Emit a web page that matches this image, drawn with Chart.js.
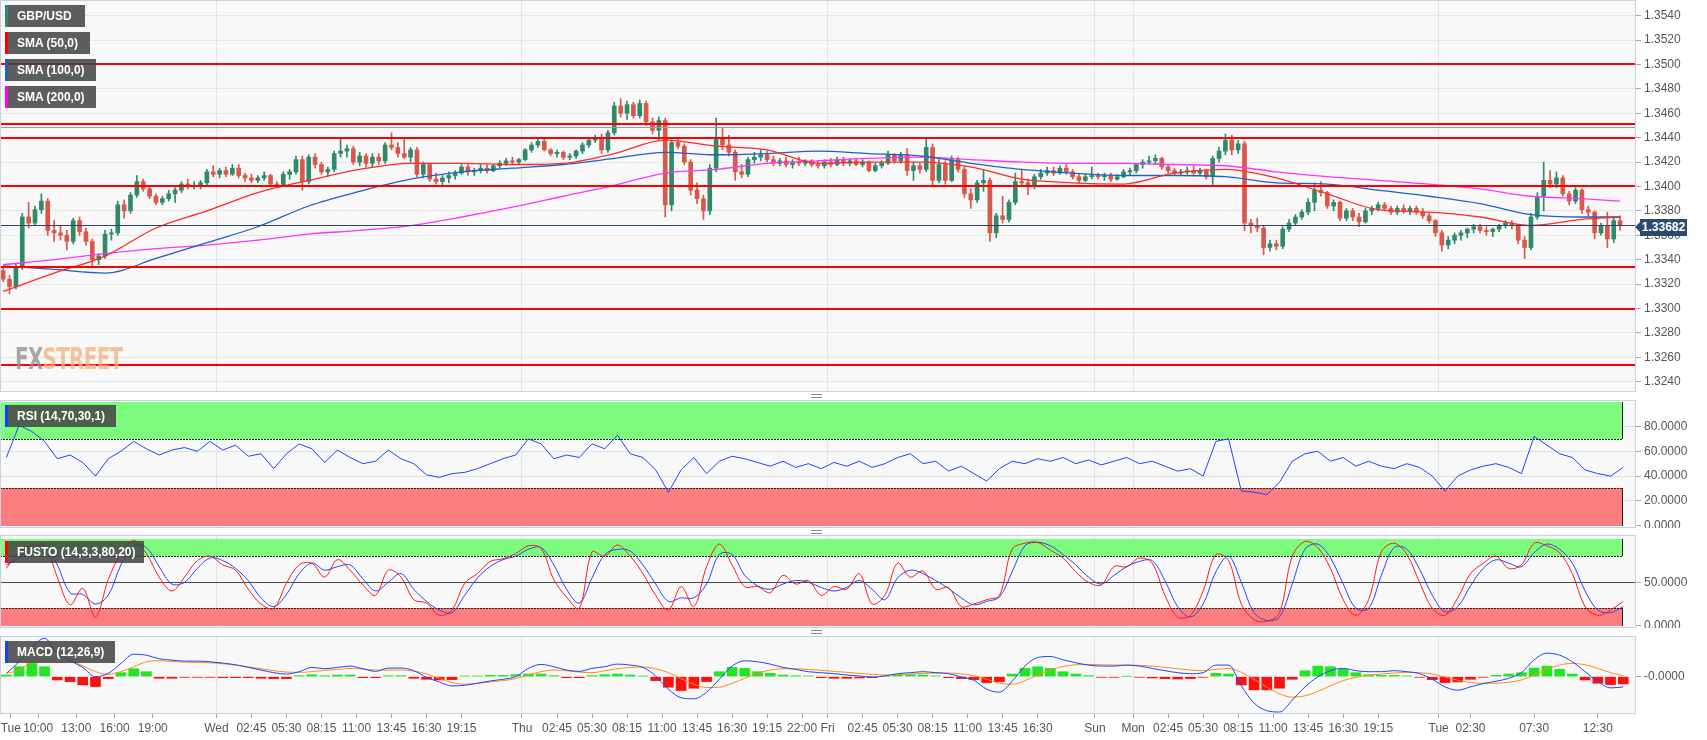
<!DOCTYPE html>
<html>
<head>
<meta charset="utf-8">
<title>GBP/USD</title>
<script src="https://cdn.jsdelivr.net/npm/chart.js@4.4.0/dist/chart.umd.min.js"></script>
<style>
  body { margin: 0; background: #fff; font-family: "Liberation Sans", Arial, sans-serif; }
  #wrap { position: relative; width: 1707px; height: 740px; overflow: hidden; }
  #wrap canvas { position: absolute; left: 0; }
  .tag { position: absolute; left: 5px; height: 22px; line-height: 22px; background: rgba(68,68,68,.86);
         color: #fff; font-weight: bold; font-size: 12px; padding-left: 12px; box-sizing: border-box; white-space: nowrap; }
  .tag i { position: absolute; left: 0; top: 0; width: 3px; height: 100%; }
  .grip { position: absolute; left: 811px; width: 11px; height: 2px; border-top: 1px solid #8a8a8a; border-bottom: 1px solid #8a8a8a; }
  #last { position: absolute; left: 1640px; top: 219px; width: 47px; height: 17px; line-height: 17px; background: #2b4a6d;
          color: #fff; font-weight: bold; font-size: 12px; text-align: center; }
  #last:before { content: ""; position: absolute; left: -5px; top: 3px; border-style: solid; border-width: 5px 5px 5px 0;
                 border-color: transparent #2b4a6d transparent transparent; }
  #mark { position: absolute; left: 15px; top: 340px; font: bold 31px "DejaVu Sans", sans-serif; letter-spacing: -1px;
          transform: scaleX(.64); transform-origin: left top; opacity: .75; }
</style>
</head>
<body>
<div id="wrap">
  <canvas id="main" width="1707" height="392" style="top:0"></canvas>
  <canvas id="rsi" width="1707" height="128" style="top:400px"></canvas>
  <canvas id="sto" width="1707" height="93" style="top:535px"></canvas>
  <canvas id="macd" width="1707" height="104" style="top:636px"></canvas>

  <div class="tag" style="top:5px;width:80px"><i style="background:#2e8b6e"></i>GBP/USD</div>
  <div class="tag" style="top:32px;width:85px"><i style="background:#ff0000"></i>SMA (50,0)</div>
  <div class="tag" style="top:59px;width:91px"><i style="background:#1f5fbf"></i>SMA (100,0)</div>
  <div class="tag" style="top:86px;width:91px"><i style="background:#ff00ff"></i>SMA (200,0)</div>
  <div class="tag" style="top:405px;width:111px"><i style="background:#1a3cff"></i>RSI (14,70,30,1)</div>
  <div class="tag" style="top:541px;width:139px"><i style="background:#ff0000"></i>FUSTO (14,3,3,80,20)</div>
  <div class="tag" style="top:641px;width:110px"><i style="background:#1a3cff"></i>MACD (12,26,9)</div>

  <div id="mark"><span style="color:#8d8d8d">FX</span><span style="color:#f3b27a">STREET</span></div>
  <div id="last">1.33682</div>
  <div class="grip" style="top:394px"></div>
  <div class="grip" style="top:530px"></div>
  <div class="grip" style="top:630px"></div>
</div>

<script>
// 30 minute candles, x measured in 15 minute slots from Tue 07:00
const open = [
  1.3331,1.3324,1.3318,1.3334,1.3375,1.3370,1.3381,1.3388,1.3364,1.3362,
  1.3360,1.3355,1.3372,1.3363,1.3355,1.3340,1.3343,1.3361,1.3362,1.3385,
  1.3380,1.3393,1.3404,1.3398,1.3392,1.3387,1.3390,1.3394,1.3397,1.3402,
  1.3400,1.3401,1.3403,1.3412,1.3410,1.3413,1.3410,1.3415,1.3409,1.3407,
  1.3405,1.3407,1.3409,1.3402,1.3401,1.3410,1.3412,1.3422,1.3404,1.3424,
  1.3418,1.3412,1.3414,1.3427,1.3429,1.3431,1.3420,1.3425,1.3419,1.3424,
  1.3421,1.3434,1.3432,1.3427,1.3424,1.3430,1.3410,1.3418,1.3406,1.3404,
  1.3407,1.3409,1.3411,1.3416,1.3412,1.3413,1.3415,1.3413,1.3417,1.3419,
  1.3421,1.3420,1.3422,1.3430,1.3434,1.3437,1.3430,1.3427,1.3428,1.3424,
  1.3425,1.3429,1.3434,1.3438,1.3440,1.3430,1.3444,1.3466,1.3460,1.3467,
  1.3458,1.3468,1.3453,1.3446,1.3454,1.3385,1.3436,1.3433,1.3420,1.3397,
  1.3390,1.3380,1.3415,1.3440,1.3434,1.3428,1.3412,1.3410,1.3422,1.3424,
  1.3426,1.3422,1.3419,1.3421,1.3418,1.3420,1.3419,1.3421,1.3418,1.3417,
  1.3420,1.3418,1.3422,1.3419,1.3421,1.3418,1.3420,1.3413,1.3417,1.3419,
  1.3426,1.3421,1.3426,1.3413,1.3417,1.3414,1.3432,1.3405,1.3418,1.3405,
  1.3422,1.3414,1.3394,1.3389,1.3403,1.3405,1.3362,1.3376,1.3373,1.3387,
  1.3404,1.3403,1.3401,1.3408,1.3411,1.3413,1.3411,1.3415,1.3412,1.3408,
  1.3405,1.3408,1.3409,1.3408,1.3409,1.3406,1.3408,1.3412,1.3413,1.3418,
  1.3420,1.3421,1.3423,1.3416,1.3413,1.3411,1.3412,1.3413,1.3411,1.3413,
  1.3408,1.3423,1.3429,1.3438,1.3430,1.3435,1.3370,1.3368,1.3366,1.3350,
  1.3353,1.3351,1.3365,1.3370,1.3375,1.3379,1.3387,1.3397,1.3395,1.3384,
  1.3387,1.3374,1.3380,1.3375,1.3371,1.3380,1.3382,1.3385,1.3382,1.3379,
  1.3382,1.3380,1.3382,1.3379,1.3376,1.3372,1.3362,1.3352,1.3356,1.3360,
  1.3362,1.3365,1.3367,1.3364,1.3363,1.3365,1.3368,1.3370,1.3368,1.3356,
  1.3350,1.3375,1.3392,1.3405,1.3402,1.3407,1.3394,1.3388,1.3397,1.3381,
  1.3379,1.3362,1.3368,1.3357,1.3372
];
const high = [
  1.3333,1.3327,1.3337,1.3378,1.3387,1.3384,1.3394,1.3390,1.3372,1.3368,
  1.3364,1.3374,1.3375,1.3366,1.3357,1.3345,1.3364,1.3365,1.3388,1.3389,
  1.3395,1.3409,1.3406,1.3400,1.3394,1.3392,1.3397,1.3399,1.3404,1.3406,
  1.3404,1.3405,1.3414,1.3417,1.3415,1.3416,1.3418,1.3418,1.3411,1.3410,
  1.3409,1.3412,1.3410,1.3404,1.3412,1.3414,1.3425,1.3425,1.3426,1.3427,
  1.3420,1.3416,1.3429,1.3440,1.3434,1.3433,1.3428,1.3427,1.3427,1.3427,
  1.3436,1.3444,1.3436,1.3439,1.3432,1.3432,1.3420,1.3419,1.3411,1.3409,
  1.3412,1.3413,1.3418,1.3418,1.3415,1.3418,1.3418,1.3418,1.3421,1.3423,
  1.3424,1.3423,1.3431,1.3436,1.3440,1.3439,1.3431,1.3430,1.3429,1.3427,
  1.3430,1.3436,1.3440,1.3442,1.3443,1.3446,1.3469,1.3472,1.3470,1.3469,
  1.3471,1.3470,1.3456,1.3457,1.3456,1.3438,1.3440,1.3435,1.3422,1.3403,
  1.3393,1.3418,1.3456,1.3448,1.3442,1.3430,1.3418,1.3424,1.3428,1.3430,
  1.3429,1.3425,1.3423,1.3424,1.3422,1.3424,1.3422,1.3422,1.3421,1.3422,
  1.3423,1.3424,1.3424,1.3423,1.3423,1.3422,1.3421,1.3419,1.3421,1.3429,
  1.3427,1.3428,1.3431,1.3420,1.3419,1.3440,1.3435,1.3422,1.3421,1.3425,
  1.3424,1.3416,1.3398,1.3405,1.3413,1.3407,1.3378,1.3392,1.3389,1.3411,
  1.3414,1.3406,1.3410,1.3414,1.3416,1.3416,1.3417,1.3418,1.3414,1.3410,
  1.3410,1.3416,1.3411,1.3411,1.3411,1.3410,1.3414,1.3415,1.3419,1.3422,
  1.3425,1.3426,1.3424,1.3418,1.3415,1.3414,1.3416,1.3417,1.3415,1.3414,
  1.3425,1.3432,1.3443,1.3442,1.3438,1.3437,1.3373,1.3374,1.3368,1.3356,
  1.3356,1.3367,1.3373,1.3377,1.3381,1.3390,1.3403,1.3404,1.3396,1.3389,
  1.3388,1.3382,1.3382,1.3378,1.3382,1.3384,1.3387,1.3387,1.3384,1.3384,
  1.3385,1.3384,1.3384,1.3382,1.3378,1.3373,1.3364,1.3359,1.3362,1.3364,
  1.3366,1.3369,1.3369,1.3367,1.3366,1.3369,1.3372,1.3372,1.3369,1.3359,
  1.3378,1.3395,1.3420,1.3413,1.3412,1.3409,1.3396,1.3399,1.3398,1.3384,
  1.3380,1.3370,1.3379,1.3375,1.3376
];
const low = [
  1.3322,1.3312,1.3316,1.3332,1.3366,1.3368,1.3378,1.3360,1.3355,1.3356,
  1.3348,1.3353,1.3360,1.3352,1.3334,1.3336,1.3341,1.3356,1.3360,1.3374,
  1.3378,1.3391,1.3396,1.3390,1.3385,1.3385,1.3388,1.3387,1.3395,1.3398,
  1.3398,1.3398,1.3401,1.3408,1.3407,1.3408,1.3409,1.3407,1.3404,1.3403,
  1.3403,1.3405,1.3400,1.3399,1.3400,1.3406,1.3410,1.3397,1.3402,1.3415,
  1.3410,1.3408,1.3412,1.3424,1.3424,1.3418,1.3417,1.3416,1.3416,1.3418,
  1.3419,1.3430,1.3424,1.3423,1.3420,1.3408,1.3407,1.3404,1.3402,1.3400,
  1.3403,1.3406,1.3410,1.3409,1.3409,1.3411,1.3411,1.3412,1.3415,1.3417,
  1.3418,1.3418,1.3421,1.3428,1.3432,1.3429,1.3425,1.3424,1.3422,1.3422,
  1.3423,1.3427,1.3432,1.3436,1.3427,1.3428,1.3442,1.3457,1.3455,1.3456,
  1.3456,1.3450,1.3443,1.3438,1.3375,1.3380,1.3431,1.3418,1.3393,1.3386,
  1.3373,1.3377,1.3412,1.3430,1.3425,1.3405,1.3407,1.3408,1.3419,1.3421,
  1.3420,1.3417,1.3417,1.3416,1.3415,1.3417,1.3417,1.3416,1.3415,1.3415,
  1.3416,1.3417,1.3417,1.3417,1.3417,1.3416,1.3412,1.3412,1.3415,1.3418,
  1.3419,1.3419,1.3409,1.3405,1.3411,1.3412,1.3400,1.3403,1.3402,1.3404,
  1.3412,1.3391,1.3382,1.3387,1.3396,1.3355,1.3358,1.3370,1.3371,1.3385,
  1.3400,1.3393,1.3398,1.3406,1.3409,1.3409,1.3410,1.3410,1.3406,1.3403,
  1.3404,1.3406,1.3406,1.3405,1.3404,1.3405,1.3407,1.3409,1.3411,1.3415,
  1.3418,1.3418,1.3414,1.3411,1.3409,1.3409,1.3410,1.3410,1.3409,1.3406,
  1.3401,1.3420,1.3426,1.3426,1.3427,1.3364,1.3362,1.3363,1.3344,1.3347,
  1.3348,1.3349,1.3363,1.3368,1.3373,1.3377,1.3380,1.3392,1.3382,1.3380,
  1.3372,1.3372,1.3372,1.3367,1.3370,1.3377,1.3380,1.3380,1.3377,1.3377,
  1.3378,1.3377,1.3377,1.3374,1.3370,1.3359,1.3347,1.3349,1.3353,1.3356,
  1.3358,1.3362,1.3362,1.3360,1.3359,1.3363,1.3366,1.3365,1.3353,1.3341,
  1.3348,1.3373,1.3380,1.3399,1.3399,1.3392,1.3385,1.3386,1.3378,1.3376,
  1.3357,1.3360,1.3350,1.3354,1.3364
];
const close = [
  1.3324,1.3318,1.3334,1.3375,1.3370,1.3381,1.3388,1.3364,1.3362,1.3360,
  1.3355,1.3372,1.3363,1.3355,1.3340,1.3343,1.3361,1.3362,1.3385,1.3380,
  1.3393,1.3404,1.3398,1.3392,1.3387,1.3390,1.3394,1.3397,1.3402,1.3400,
  1.3401,1.3403,1.3412,1.3410,1.3413,1.3410,1.3415,1.3409,1.3407,1.3405,
  1.3407,1.3409,1.3402,1.3401,1.3410,1.3412,1.3422,1.3404,1.3424,1.3418,
  1.3412,1.3414,1.3427,1.3429,1.3431,1.3420,1.3425,1.3419,1.3424,1.3421,
  1.3434,1.3432,1.3427,1.3424,1.3430,1.3410,1.3418,1.3406,1.3404,1.3407,
  1.3409,1.3411,1.3416,1.3412,1.3413,1.3415,1.3413,1.3417,1.3419,1.3421,
  1.3420,1.3422,1.3430,1.3434,1.3437,1.3430,1.3427,1.3428,1.3424,1.3425,
  1.3429,1.3434,1.3438,1.3440,1.3430,1.3444,1.3466,1.3460,1.3467,1.3458,
  1.3468,1.3453,1.3446,1.3454,1.3385,1.3436,1.3433,1.3420,1.3397,1.3390,
  1.3380,1.3415,1.3440,1.3434,1.3428,1.3412,1.3410,1.3422,1.3424,1.3426,
  1.3422,1.3419,1.3421,1.3418,1.3420,1.3419,1.3421,1.3418,1.3417,1.3420,
  1.3418,1.3422,1.3419,1.3421,1.3418,1.3420,1.3413,1.3417,1.3419,1.3426,
  1.3421,1.3426,1.3413,1.3417,1.3414,1.3432,1.3405,1.3418,1.3405,1.3422,
  1.3414,1.3394,1.3389,1.3403,1.3405,1.3362,1.3376,1.3373,1.3387,1.3404,
  1.3403,1.3401,1.3408,1.3411,1.3413,1.3411,1.3415,1.3412,1.3408,1.3405,
  1.3408,1.3409,1.3408,1.3409,1.3406,1.3408,1.3412,1.3413,1.3418,1.3420,
  1.3421,1.3423,1.3416,1.3413,1.3411,1.3412,1.3413,1.3411,1.3413,1.3408,
  1.3423,1.3429,1.3438,1.3430,1.3435,1.3370,1.3368,1.3366,1.3350,1.3353,
  1.3351,1.3365,1.3370,1.3375,1.3379,1.3387,1.3397,1.3395,1.3384,1.3387,
  1.3374,1.3380,1.3375,1.3371,1.3380,1.3382,1.3385,1.3382,1.3379,1.3382,
  1.3380,1.3382,1.3379,1.3376,1.3372,1.3362,1.3352,1.3356,1.3360,1.3362,
  1.3365,1.3367,1.3364,1.3363,1.3365,1.3368,1.3370,1.3368,1.3356,1.3350,
  1.3375,1.3392,1.3405,1.3402,1.3407,1.3394,1.3388,1.3397,1.3381,1.3379,
  1.3362,1.3368,1.3357,1.3372,1.3368
];

// moving averages, read every 8th candle
const smaAt = [0,8,16,24,32,40,48,56,64,72,80,88,96,104,112,120,128,136,144,152,160,168,176,184,192,200,208,216,224,232,240,248,254];
const sma50 = [1.3314,1.3329,1.3343,1.3366,1.3380,1.3395,1.3405,1.3414,1.3419,1.3419,1.3418,1.3419,1.3427,1.3438,1.3433,1.3430,
               1.3419,1.3420,1.3420,1.3416,1.3406,1.3403,1.3402,1.3411,1.3414,1.3407,1.3394,1.3381,1.3379,1.3375,1.3368,1.3373,1.3375];
const sma100 = [1.3335,1.3332,1.3329,1.3341,1.3354,1.3367,1.3384,1.3396,1.3406,1.3412,1.3415,1.3418,1.3423,1.3428,1.3426,1.3427,
                1.3429,1.3427,1.3425,1.3419,1.3414,1.3411,1.3409,1.3409,1.3408,1.3403,1.3402,1.3397,1.3392,1.3386,1.3377,1.3375,1.3375];
const sma200 = [1.3336,1.3340,1.3345,1.3349,1.3352,1.3356,1.3361,1.3364,1.3368,1.3375,1.3383,1.3392,1.3401,1.3411,1.3414,1.3419,
                1.3421,1.3423,1.3424,1.3422,1.3420,1.3419,1.3419,1.3418,1.3417,1.3412,1.3408,1.3405,1.3402,1.3398,1.3392,1.3390,1.3388];

const levels = [1.3500, 1.3451, 1.3440, 1.3400, 1.3334, 1.3300, 1.3254];
const refLevel = 1.3449;
const lastPrice = 1.33682;
const priceTicks = [1.3240,1.3260,1.3280,1.3300,1.3320,1.3340,1.3360,1.3380,1.3400,1.3420,1.3440,1.3460,1.3480,1.3500,1.3520,1.3540];

// oscillators, one reading per hour
const rsi = [55,81,76,68,54,57,51,40,54,60, 68,62,57,61,63,60,68,61,65,56, 58,46,58,66,62,51,61,55,50,52,
             61,54,50,41,39,42,43,46,50,54, 57,70,66,54,57,55,66,62,73,58, 55,45,27,45,55,42,52,56,54,51,
             48,52,47,50,46,51,48,52,47,50, 55,58,50,52,44,48,42,36,46,52, 50,54,52,55,50,53,49,52,55,50,
             52,48,44,46,40,68,70,28,27,25, 35,52,58,60,52,55,48,52,48,46, 50,47,40,28,40,45,48,50,47,42,
             72,65,58,55,45,42,40,47];
const stoK = [66,85,92,93,56,24,43,10,53,83, 98,83,56,40,56,75,80,70,64,42, 25,20,49,70,72,56,76,64,47,35,
              64,56,30,26,12,18,49,60,74,77, 83,92,89,53,33,20,85,80,93,80, 60,35,18,45,22,68,94,70,45,45,
              38,58,48,52,35,45,42,60,25,35, 72,56,63,42,44,22,25,30,35,88, 95,96,87,78,62,50,47,68,68,78,
              72,35,10,12,40,82,75,25,7,5, 15,80,97,90,66,30,12,30,85,95, 82,50,20,12,32,60,72,80,66,70,
              95,92,84,60,22,12,18,28];
const stoD = [70,78,89,92,70,38,36,25,35,70, 92,90,68,48,50,66,78,75,66,52, 32,22,36,60,72,64,68,70,54,40,
              50,60,42,28,18,15,35,55,68,76, 80,88,90,70,42,26,55,82,88,86, 70,48,28,32,32,48,82,82,58,46,
              42,48,52,50,44,40,44,52,42,30, 55,64,60,52,43,32,24,28,33,62, 92,96,92,82,70,56,48,58,68,74,
              75,52,22,10,25,62,80,50,15,6, 10,48,88,94,78,48,20,20,58,90, 88,65,35,16,22,46,66,76,72,68,
              84,94,88,72,40,18,15,22];
// MACD in pips (0.0001)
const macdLine = [1.0,4.5,8.9,11.6,7.0,4.8,2.8,0.0,1.0,4.0, 6.8,6.5,5.4,5.0,4.7,4.7,4.5,4.1,3.6,2.8,
                  2.0,1.2,0.8,1.5,2.8,2.4,2.8,3.2,2.4,1.6, 2.6,2.6,1.8,-0.2,-1.6,-2.8,-2.6,-2.0,-1.3,-0.8,
                  0.0,2.5,3.7,3.0,2.0,1.6,2.5,3.0,3.8,3.5, 2.8,0.2,-3.8,-6.4,-6.7,-4.7,-0.8,3.2,4.8,4.5,
                  3.8,2.8,2.2,1.5,1.2,0.9,0.5,0.2,-0.1,0.2, 0.9,1.2,1.5,1.2,0.9,-0.1,-1.1,-3.8,-4.7,-1.4,
                  3.2,5.8,6.1,5.1,4.2,3.5,3.2,3.2,3.5,3.2, 2.5,1.8,1.2,0.9,1.2,3.5,3.5,-2.8,-8.0,-10.3,
                  -10.7,-7.1,-3.1,-0.1,1.8,2.5,1.8,1.5,1.5,1.8, 1.5,0.9,-0.8,-3.1,-4.1,-3.1,-2.1,-1.4,-0.5,1.2,
                  5.1,7.1,6.5,4.5,1.5,-1.4,-3.4,-3.1];
const macdSignal = [1.0,2.0,4.5,7.5,7.5,5.0,3.3,1.5,0.7,1.5, 3.0,4.5,4.8,4.6,4.4,4.3,4.2,3.9,3.5,3.0,
                    2.4,1.8,1.4,1.3,1.5,1.9,2.2,2.5,2.3,2.0, 2.0,2.0,1.7,0.8,-0.5,-1.8,-2.3,-2.0,-1.6,-1.2,
                    -0.6,0.5,1.5,2.0,1.8,1.4,1.2,1.8,2.4,2.8, 2.9,2.4,1.2,-0.6,-2.3,-3.3,-3.2,-2.0,-0.5,1.0,
                    2.0,2.4,2.4,2.2,1.9,1.6,1.3,1.0,0.7,0.5, 0.6,0.8,1.0,1.1,1.1,0.8,0.3,-0.8,-2.0,-2.3,
                    -1.2,0.5,2.0,3.1,3.6,3.7,3.6,3.5,3.5,3.4, 3.2,2.8,2.4,2.0,1.8,2.2,2.5,1.3,-0.8,-3.2,
                    -5.2,-6.2,-5.8,-4.5,-2.8,-1.2,-0.2,0.4,0.8,1.1, 1.3,1.2,0.8,-0.1,-1.1,-1.8,-2.0,-2.0,-1.7,-1.0,
                    0.5,2.2,3.5,4.0,3.6,2.5,1.2,0.3];
const macdHist = [0.5,3.0,4.0,3.0,-1.0,-1.5,-2.5,-3.0,-0.6,1.2, 2.4,1.5,-0.5,-0.5,-0.2,-0.2,-0.2,-0.3,-0.3,-0.3,
                  -0.5,-0.6,-0.6,0.3,0.6,0.3,0.5,0.5,-0.3,-0.3, 0.3,0.3,-0.5,-0.8,-1.0,-0.9,0.2,0.2,0.4,0.4,
                  0.6,0.8,0.8,0.3,-0.3,-0.3,0.3,0.6,0.8,0.5, 0.2,-1.2,-3.2,-4.2,-3.5,-1.5,1.5,2.8,2.5,1.5,
                  1.0,0.5,0.3,0.2,-0.3,-0.5,-0.5,-0.4,-0.3,0.2, 0.5,0.6,0.5,0.2,-0.3,-0.6,-0.9,-1.8,-1.5,0.8,
                  2.5,3.0,2.5,1.5,0.8,0.3,-0.2,-0.2,0.1,-0.2, -0.4,-0.6,-0.7,-0.6,-0.2,1.0,0.8,-2.5,-4.0,-4.0,
                  -3.5,-0.8,1.8,3.2,3.0,2.2,1.2,0.6,0.4,0.4, 0.2,-0.2,-0.9,-1.8,-1.6,-0.8,-0.2,0.4,0.8,1.2,
                  2.6,3.2,2.2,0.8,-1.0,-2.0,-2.4,-2.2];

const tickSlots = [3.4,12,24,36,48, 68,79,90,101,112,123,134,145, 164,175,186,197,208,219,230,241,252,
                   260,271,282,293,304,315,326, 344,356,367,378,389,400,411,422,433, 452,462,482,502];
const tickLabels = ['Tue','10:00','13:00','16:00','19:00',
                    'Wed','02:45','05:30','08:15','11:00','13:45','16:30','19:15',
                    'Thu','02:45','05:30','08:15','11:00','13:45','16:30','19:15','22:00',
                    'Fri','02:45','05:30','08:15','11:00','13:45','16:30',
                    'Sun','Mon','02:45','05:30','08:15','11:00','13:45','16:30','19:15',
                    'Tue','02:30','07:30','12:30'];
const dayNames = ['Wed','Thu','Fri','Sun','Mon','Tue'];

const UP = '#2f8a6c', DOWN = '#d8584a';
const FONT = '"Liberation Sans", Arial, sans-serif';
Chart.defaults.font.family = FONT;
Chart.defaults.font.size = 12;
Chart.defaults.color = '#555';
Chart.defaults.animation = false;

const barX = k => 2 * k + 1;      // candle centre, in slots
const hourX = j => 4 * j + 2;     // oscillator reading, in slots
const lastSlot = barX(open.length - 1) + 1;

const frame = {
  id: 'frame',
  beforeDraw(c) {
    const a = c.chartArea, g = c.ctx;
    g.save(); g.fillStyle = '#f8f8f8'; g.fillRect(a.left, a.top, a.width, a.height); g.restore();
  },
  afterDraw(c) {
    const a = c.chartArea, g = c.ctx;
    g.save(); g.strokeStyle = '#c9d0e2'; g.lineWidth = 1;
    g.strokeRect(a.left + 0.5, a.top - 0.5, a.width - 1, a.height + 1); g.restore();
  }
};

const zones = {
  id: 'zones',
  beforeDatasetsDraw(c, args, o) {
    if (!o.bands) return;
    const g = c.ctx, y = c.scales.y, l = c.chartArea.left, r = Math.round(c.scales.x.getPixelForValue(lastSlot));
    g.save();
    o.bands.forEach(b => {
      const t = Math.round(y.getPixelForValue(b.to)), btm = Math.round(y.getPixelForValue(b.from));
      g.fillStyle = b.color; g.fillRect(l, t, r - l, btm - t);
      g.strokeStyle = '#222'; g.lineWidth = 1; g.setLineDash([]);
      g.beginPath(); g.moveTo(l + 0.5, t); g.lineTo(l + 0.5, btm); g.moveTo(r - 0.5, t); g.lineTo(r - 0.5, btm); g.stroke();
      const e = Math.round(y.getPixelForValue(b.edge)) + 0.5;
      g.setLineDash([2, 1]); g.beginPath(); g.moveTo(l, e); g.lineTo(r, e); g.stroke();
    });
    g.restore();
  }
};

const levelLines = {
  id: 'levelLines',
  afterDatasetsDraw(c) {
    const g = c.ctx, y = c.scales.y, a = c.chartArea;
    const hline = (v, col, w) => {
      const p = Math.round(y.getPixelForValue(v)) + (w % 2 ? 0.5 : 0);
      g.strokeStyle = col; g.lineWidth = w; g.beginPath(); g.moveTo(a.left, p); g.lineTo(a.right, p); g.stroke();
    };
    g.save();
    hline(refLevel, '#9c9c9c', 1);
    levels.forEach(v => hline(v, '#ff0000', 2));
    hline(lastPrice, '#2a4466', 1);
    g.restore();
  }
};

function xAxis(showLabels) {
  return {
    type: 'linear', min: 0, max: 514, display: true, offset: false,
    border: { display: false },
    afterBuildTicks: s => { s.ticks = tickSlots.map(v => ({ value: v })); },
    afterFit: s => { s.paddingLeft = 0; s.paddingRight = 0; s.height = showLabels ? 27 : 0; },
    grid: {
      offset: false, drawTicks: showLabels, tickLength: 5,
      color: ctx => (ctx.index > 0 && dayNames.includes(tickLabels[ctx.index])) ? '#e2e2e2' : 'rgba(0,0,0,0)',
      tickColor: '#a8a8a8'
    },
    ticks: { display: showLabels, autoSkip: false, maxRotation: 0, minRotation: 0, padding: 3, color: '#555',
             callback: (v, i) => tickLabels[i] }
  };
}

function yAxis(min, max, values, label, gridColor) {
  return {
    position: 'right', min, max,
    border: { display: false },
    afterFit: s => { s.width = 71; s.paddingTop = 0; s.paddingBottom = 0; },
    afterBuildTicks: s => { s.ticks = values.map(v => ({ value: v })); },
    grid: { color: gridColor, tickColor: '#a8a8a8', tickLength: 5 },
    ticks: { padding: 3, color: '#555', callback: label }
  };
}

const common = {
  responsive: false, devicePixelRatio: 1,
  plugins: { legend: { display: false }, tooltip: { enabled: false } }
};

// price panel
new Chart(document.getElementById('main'), {
  type: 'bar',
  data: {
    datasets: [
      { type: 'line', order: 0, data: smaAt.map((k, i) => ({ x: barX(k), y: sma50[i] })), borderColor: '#ff2a2a',
        borderWidth: 1.3, pointRadius: 0, cubicInterpolationMode: 'monotone' },
      { type: 'line', order: 0, data: smaAt.map((k, i) => ({ x: barX(k), y: sma100[i] })), borderColor: '#2160c4',
        borderWidth: 1.3, pointRadius: 0, cubicInterpolationMode: 'monotone' },
      { type: 'line', order: 0, data: smaAt.map((k, i) => ({ x: barX(k), y: sma200[i] })), borderColor: '#ff33ff',
        borderWidth: 1.3, pointRadius: 0, cubicInterpolationMode: 'monotone' },
      { order: 1, grouped: false, barThickness: 4, minBarLength: 1, borderWidth: 0,
        data: open.map((o, k) => ({ x: barX(k), y: [o, close[k]] })),
        backgroundColor: ctx => close[ctx.dataIndex] >= open[ctx.dataIndex] ? UP : DOWN },
      { order: 2, grouped: false, barThickness: 1, borderWidth: 0,
        data: low.map((l, k) => ({ x: barX(k), y: [l, high[k]] })),
        backgroundColor: ctx => close[ctx.dataIndex] >= open[ctx.dataIndex] ? UP : DOWN }
    ]
  },
  options: Object.assign({}, common, {
    layout: { padding: { top: 1, bottom: 1, left: 0, right: 0 } },
    scales: {
      x: xAxis(false),
      y: yAxis(1.32324, 1.35520, priceTicks, v => v.toFixed(4), '#e6e6e6')
    }
  }),
  plugins: [frame, levelLines]
});

// RSI panel
new Chart(document.getElementById('rsi'), {
  type: 'line',
  data: { datasets: [{ data: rsi.map((v, j) => ({ x: hourX(j), y: v })), borderColor: '#1f46ff', borderWidth: 1,
                       pointRadius: 0, tension: 0 }] },
  options: Object.assign({}, common, {
    layout: { padding: { top: 1, bottom: 1, left: 0, right: 0 } },
    plugins: Object.assign({}, common.plugins, { zones: { bands: [
      { from: 70, to: 100, edge: 70, color: '#7dfb7d' },
      { from: 0, to: 30, edge: 30, color: '#fb7d7d' }] } }),
    scales: {
      x: xAxis(false),
      y: yAxis(-1.05, 100.56, [0, 20, 40, 60, 80], v => v.toFixed(4),
               ctx => ctx.tick.value === 0 ? 'rgba(0,0,0,0)' : '#e0e0e0')
    }
  }),
  plugins: [frame, zones]
});

// stochastic panel
new Chart(document.getElementById('sto'), {
  type: 'line',
  data: { datasets: [
    { data: stoK.map((v, j) => ({ x: hourX(j), y: v })), borderColor: '#ff1a1a', borderWidth: 1, pointRadius: 0, tension: 0.35 },
    { data: stoD.map((v, j) => ({ x: hourX(j), y: v })), borderColor: '#2447ff', borderWidth: 1, pointRadius: 0, tension: 0.35 }
  ] },
  options: Object.assign({}, common, {
    layout: { padding: { top: 1, bottom: 1, left: 0, right: 0 } },
    plugins: Object.assign({}, common.plugins, { zones: { bands: [
      { from: 80, to: 100, edge: 80, color: '#7dfb7d' },
      { from: 0, to: 20, edge: 20, color: '#fb7d7d' }] } }),
    scales: {
      x: xAxis(false),
      y: yAxis(-1.5, 103.3, [0, 50], v => v.toFixed(4),
               ctx => ctx.tick.value === 50 ? '#4a4a4a' : 'rgba(0,0,0,0)')
    }
  }),
  plugins: [frame, zones]
});

// MACD panel
new Chart(document.getElementById('macd'), {
  type: 'bar',
  data: { datasets: [
    { type: 'line', order: 0, data: macdLine.map((v, j) => ({ x: hourX(j), y: v })), borderColor: '#1f46ff',
      borderWidth: 1, pointRadius: 0, cubicInterpolationMode: 'monotone' },
    { type: 'line', order: 0, data: macdSignal.map((v, j) => ({ x: hourX(j), y: v })), borderColor: '#ff8c1a',
      borderWidth: 1, pointRadius: 0, cubicInterpolationMode: 'monotone' },
    { order: 1, barThickness: 10, borderWidth: 0, data: macdHist.map((v, j) => ({ x: hourX(j), y: v })),
      backgroundColor: ctx => macdHist[ctx.dataIndex] >= 0 ? '#22e622' : '#ff1010' }
  ] },
  options: Object.assign({}, common, {
    layout: { padding: { top: 1, bottom: 0, left: 0, right: 0 } },
    scales: {
      x: xAxis(true),
      y: yAxis(-11.0, 12.0, [0], () => '-0.0000', 'rgba(0,0,0,0)')
    }
  }),
  plugins: [frame]
});
</script>
</body>
</html>
